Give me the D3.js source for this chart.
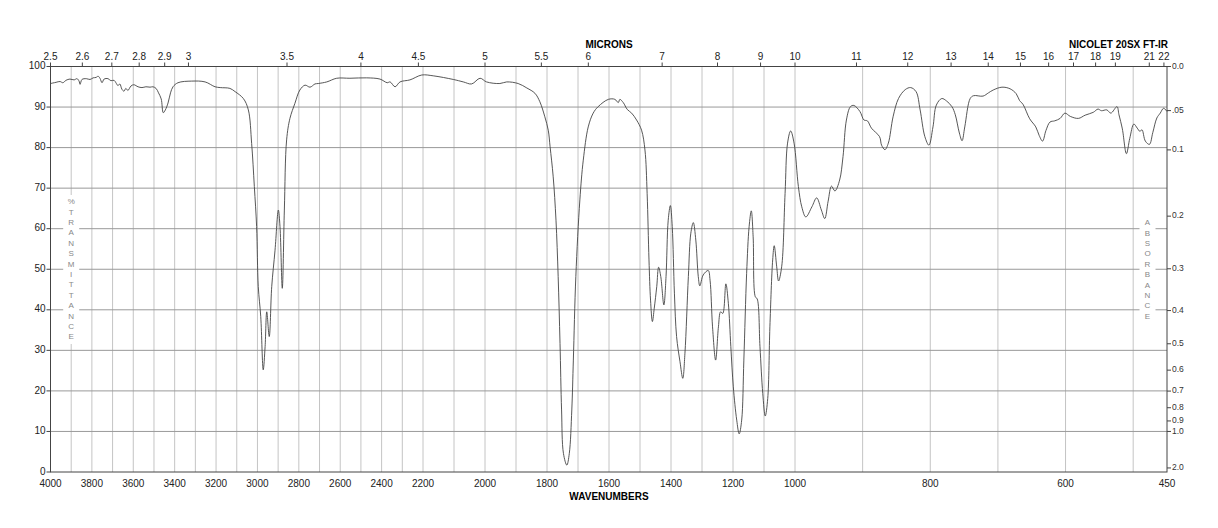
<!DOCTYPE html>
<html><head><meta charset="utf-8">
<script src="https://cdn.jsdelivr.net/npm/d3@7"></script>
<style>
body{margin:0;background:#fff;}
text{font-family:"Liberation Sans",Arial,Helvetica,sans-serif;}
</style>
</head><body>
<svg id="chart" width="1218" height="528"></svg>
<script>
// ---- data ----
const wavenumbers = [
4000,3973,3954,3940,3925,3906,3886,3872,3862,3857,3848,3827,3809,3794,3780,3770,3761,3751,3741,3722,
3708,3693,3684,3674,3665,3655,3645,3636,3626,3611,3597,3577,3558,3539,3519,3505,3490,3478,3465,3455,
3445,3432,3420,3408,3384,3318,3253,3205,3180,3133,3108,3068,3044,3028,3015,3004,2996,2984,2972,2963,
2955,2943,2931,2915,2899,2891,2880,2870,2859,2843,2819,2795,2770,2746,2722,2706,2665,2617,2553,2472,
2408,2373,2359,2335,2311,2263,2206,2167,2102,2070,2043,2016,1995,1952,1930,1893,1865,1839,1823,1807,
1796,1790,1780,1771,1764,1758,1753,1747,1736,1728,1720,1715,1707,1694,1683,1667,1651,1635,1602,1581,
1570,1565,1554,1541,1527,1511,1495,1484,1477,1471,1466,1460,1454,1446,1440,1433,1423,1416,1409,1402,
1396,1389,1382,1371,1362,1355,1344,1336,1328,1320,1312,1307,1296,1280,1274,1266,1256,1247,1240,1233,
1223,1215,1207,1199,1188,1180,1172,1165,1156,1148,1141,1135,1128,1122,1113,1104,1096,1088,1081,1072,
1067,1059,1053,1043,1032,1024,1014,1003,995,990,984,975,968,961,956,951,946,941,934,929,
924,918,913,904,898,893,887,875,872,867,862,855,847,837,829,821,815,808,802,796,
791,783,776,768,763,757,753,749,741,736,722,714,707,694,682,673,668,663,653,644,
639,634,629,623,616,608,601,593,581,571,559,552,547,539,533,524,521,516,510,505,
499,494,490,487,482,476,471,465,460,455,450
];
const transmittance = [
95.8,96.1,96.3,96.0,96.6,96.9,96.7,97.0,96.4,95.6,96.8,97.0,96.8,97.2,97.3,97.6,97.1,96.0,96.9,97.0,
96.5,96.6,96.0,95.3,95.7,94.4,93.9,94.6,94.1,95.2,95.5,95.0,94.8,95.0,94.9,95.0,94.6,93.5,92.0,88.6,
89.3,91.0,93.5,95.0,96.0,96.4,96.2,95.0,94.8,94.6,93.8,92.1,89.3,81.0,70.4,60.5,45.7,38.3,25.2,30.9,
39.5,33.4,45.7,54.7,64.6,60.5,45.3,64.6,81.9,87.2,90.9,94.2,95.4,94.9,95.7,95.8,96.2,97.1,97.1,97.2,
96.9,96.0,96.2,95.0,96.2,96.7,97.9,97.7,96.8,96.2,95.7,97.1,96.2,95.8,96.2,95.8,94.7,93.4,91.3,87.6,
84.3,80.2,72.8,62.1,48.2,31.7,15.3,4.6,1.7,4.6,15.3,27.6,48.2,67.1,76.9,85.1,88.5,90.1,91.9,91.9,
91.1,91.9,91.1,89.4,88.5,86.8,84.3,79.4,68.7,52.3,42.4,37.1,40.4,45.7,50.5,48.2,41.2,48.2,62.1,65.7,
60.5,44.1,33.4,27.2,23.1,29.3,48.2,58.9,61.5,57.2,48.2,45.9,48.6,49.7,47.3,35.8,27.6,35.8,39.5,39.1,
46.4,41.6,30.9,21.0,12.8,9.4,12.8,27.6,49.0,60.5,64.4,58.0,43.2,42.7,30.9,19.4,13.8,18.1,35.8,52.3,
55.8,50.6,47.1,50.6,68.7,81.1,84.1,81.1,70.4,65.4,62.9,65.4,67.6,64.6,62.5,66.8,70.5,69.3,72.0,77.8,
86.8,90.1,90.4,88.9,86.8,86.6,84.8,82.7,80.6,79.5,81.1,87.6,92.1,94.3,94.8,93.8,89.3,82.7,80.6,85.1,
90.5,92.1,91.5,90.1,88.1,83.6,81.7,85.1,92.1,92.8,92.7,93.5,94.2,94.9,94.5,93.3,91.6,90.7,87.1,85.1,
83.0,81.6,84.2,86.3,86.6,87.2,88.5,87.7,87.2,88.0,88.7,89.5,89.1,89.3,88.5,90.1,88.1,84.6,78.5,82.3,
85.8,84.8,84.0,84.4,81.6,80.8,83.7,87.3,88.5,89.7,88.9
];
const wnTickValues = [4000,3800,3600,3400,3200,3000,2800,2600,2400,2200,2000,1800,1600,1400,1200,1000,800,600,450];
const micronTickValues = [2.5,2.6,2.7,2.8,2.9,3,3.5,4,4.5,5,5.5,6,7,8,9,10,11,12,13,14,15,16,17,18,19,21,22];
const transTickValues = [0,10,20,30,40,50,60,70,80,90,100];
const absTickValues = [0.0,0.05,0.1,0.2,0.3,0.4,0.5,0.6,0.7,0.8,0.9,1.0,2.0];
const absTickLabels = ["0.0",".05","0.1","0.2","0.3","0.4","0.5","0.6","0.7","0.8","0.9","1.0","2.0"];
const scaleBreaks = [4000,2200,1000,450];
const gridWavenumbers = d3.range(3900,499,-100);
const leftLabel = "%TRANSMITTANCE".split("");
const rightLabel = "ABSORBANCE".split("");

// ---- layout ----
const L = 50.5, R = 1167, T = 66.5, B = 472;
const svg = d3.select("#chart");
const x = d3.scaleLinear().domain(scaleBreaks).range([L, 423, 795, R]);
const y = d3.scaleLinear().domain([0,100]).range([B, T]);

// gridlines
const grid = svg.append("g");
grid.selectAll(".vg").data(gridWavenumbers).join("line")
  .attr("x1", d=>x(d)).attr("x2", d=>x(d)).attr("y1", T).attr("y2", B)
  .attr("stroke", "#c4c4c4").attr("stroke-width", 1);
grid.selectAll(".hg").data(transTickValues.filter(d=>d>0 && d<100)).join("line")
  .attr("x1", L).attr("x2", R).attr("y1", d=>y(d)).attr("y2", d=>y(d))
  .attr("stroke", "#999").attr("stroke-width", 1);

// vertical axis words
function verticalWord(letters, cx, y0, boxY0, boxY1) {
  svg.append("rect").attr("x", cx-8).attr("y", boxY0).attr("width", 16).attr("height", boxY1-boxY0).attr("fill", "#fff");
  svg.append("g").selectAll("text").data(letters).join("text")
    .attr("x", cx).attr("y", (d,i)=>y0 + i*10.4).attr("text-anchor","middle")
    .attr("dominant-baseline","middle").attr("font-size", 8).attr("fill", "#888").text(d=>d);
}
verticalWord(leftLabel, 71.2, 202, 195, 344);
verticalWord(rightLabel, 1147.5, 223, 216, 323);

// spectrum
const pts = wavenumbers.map((w,i)=>[w, transmittance[i]]);
svg.append("path").datum(pts)
  .attr("d", d3.line().x(d=>x(d[0])).y(d=>y(d[1])).curve(d3.curveCatmullRom.alpha(0.5)))
  .attr("fill","none").attr("stroke","#444").attr("stroke-width",0.9);

// frame
svg.append("rect").attr("x", L).attr("y", T).attr("width", R-L).attr("height", B-T)
  .attr("fill","none").attr("stroke","#444").attr("stroke-width",1);

// left axis
const gl = svg.append("g");
gl.selectAll("line").data(transTickValues).join("line")
  .attr("x1", L-4).attr("x2", L).attr("y1", d=>y(d)).attr("y2", d=>y(d)).attr("stroke","#444");
gl.selectAll("text").data(transTickValues).join("text")
  .attr("x", L-5).attr("y", d=>y(d)).attr("text-anchor","end").attr("dominant-baseline","middle")
  .attr("font-size",10).attr("fill","#222").text(d=>d);

// right axis (absorbance)
const gr = svg.append("g");
const yA = a => y(100*Math.pow(10,-a));
gr.selectAll("line").data(absTickValues).join("line")
  .attr("x1", R).attr("x2", R+4).attr("y1", d=>yA(d)).attr("y2", d=>yA(d)).attr("stroke","#444");
gr.selectAll("text").data(absTickValues).join("text")
  .attr("x", R+5).attr("y", d=>yA(d)).attr("dominant-baseline","middle")
  .attr("font-size",8.5).attr("fill","#333").text((d,i)=>absTickLabels[i]);

// bottom axis
svg.append("g").selectAll("text").data(wnTickValues).join("text")
  .attr("x", d=>x(d)).attr("y", 484).attr("text-anchor","middle").attr("dominant-baseline","middle")
  .attr("font-size",10).attr("fill","#222").text(d=>d);

// top axis (microns)
const gt = svg.append("g");
gt.selectAll("line").data(micronTickValues).join("line")
  .attr("x1", d=>x(10000/d)).attr("x2", d=>x(10000/d)).attr("y1", T-4).attr("y2", T).attr("stroke","#444");
gt.selectAll("text").data(micronTickValues).join("text")
  .attr("x", d=>x(10000/d)).attr("y", 57).attr("text-anchor","middle").attr("dominant-baseline","middle")
  .attr("font-size",10).attr("fill","#222").text(d=>d);

// titles
svg.append("text").attr("x", 609).attr("y", 45).attr("text-anchor","middle").attr("dominant-baseline","middle")
  .attr("font-size",10).attr("font-weight","bold").text("MICRONS");
svg.append("text").attr("x", 1168).attr("y", 45).attr("text-anchor","end").attr("dominant-baseline","middle")
  .attr("font-size",10).attr("font-weight","bold").text("NICOLET 20SX FT-IR");
svg.append("text").attr("x", 609).attr("y", 497).attr("text-anchor","middle").attr("dominant-baseline","middle")
  .attr("font-size",10).attr("font-weight","bold").text("WAVENUMBERS");
</script>
</body></html>
